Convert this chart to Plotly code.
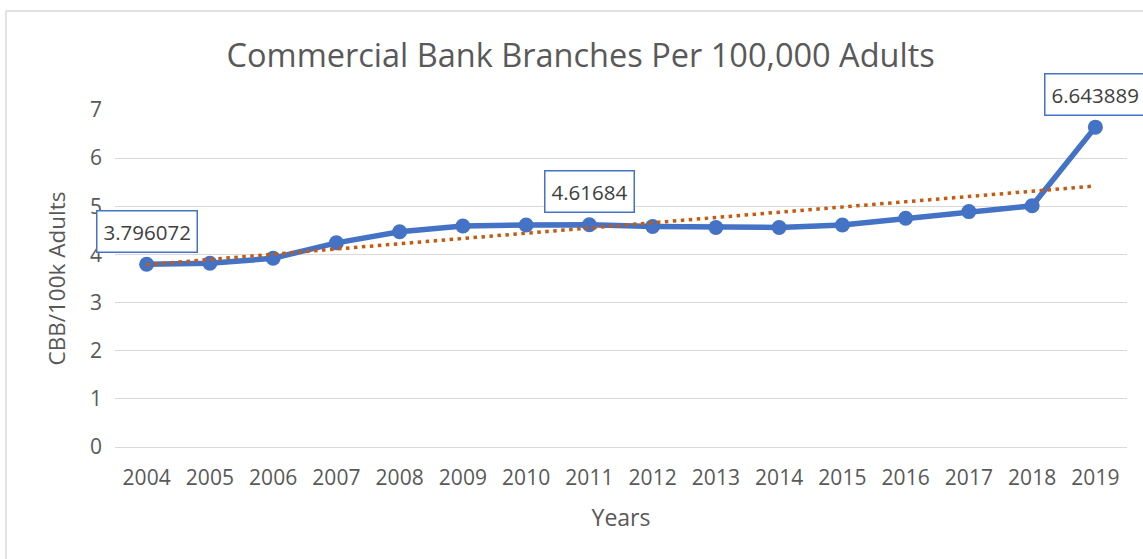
import numpy as np
import plotly.graph_objects as go

# Commercial bank branches per 100,000 adults, by year
years = [2004, 2005, 2006, 2007, 2008, 2009, 2010, 2011,
         2012, 2013, 2014, 2015, 2016, 2017, 2018, 2019]
branches = [3.796072, 3.816, 3.92, 4.24, 4.47, 4.59, 4.61, 4.61684,
            4.58, 4.56, 4.56, 4.61, 4.75, 4.89, 5.01, 6.643889]
labelled_years = [2004, 2011, 2019]
y_ticks = [0, 1, 2, 3, 4, 5, 6, 7]

FONT = "Open Sans"
TEXT = "#595959"
BLUE = "#4472C4"
ORANGE = "#C55A11"
GRID = "#D9D9D9"

# Linear trend fitted over the series
idx = np.arange(len(years))
slope, intercept = np.polyfit(idx, branches, 1)
trend = intercept + slope * idx

fig = go.Figure()
fig.add_trace(go.Scatter(
    x=years, y=branches, mode="lines+markers",
    line=dict(color=BLUE, width=5.5),
    marker=dict(color=BLUE, size=15),
    showlegend=False, hoverinfo="x+y",
))
fig.add_trace(go.Scatter(
    x=years, y=trend, mode="lines",
    line=dict(color=ORANGE, width=3.5, dash="3.5px,4.5px"),
    showlegend=False, hoverinfo="skip",
))

for yr in labelled_years:
    v = branches[years.index(yr)]
    fig.add_annotation(
        x=yr, y=v, text=str(v), showarrow=False, yshift=33,
        font=dict(family=FONT, size=20.5, color="#404040"),
        bgcolor="white", bordercolor=BLUE, borderwidth=1.5, borderpad=6,
    )

# Outer chart frame
fig.add_shape(
    type="rect", xref="paper", yref="paper",
    x0=-0.1077, x1=1.05, y0=-0.4, y1=1.2938,
    line=dict(color=GRID, width=1.5), fillcolor="rgba(0,0,0,0)", layer="below",
)

fig.update_layout(
    width=1143, height=559,
    margin=dict(l=115, r=16, t=110, b=112),
    paper_bgcolor="white", plot_bgcolor="white",
    font=dict(family=FONT, color=TEXT),
    title=dict(
        text="Commercial Bank Branches Per 100,000 Adults",
        x=0.508, xanchor="center", y=0.9, yanchor="middle",
        font=dict(family=FONT, size=32.5, color=TEXT),
    ),
    xaxis=dict(
        range=[2003.5, 2019.5], tickmode="array", tickvals=years,
        ticktext=[str(y) for y in years], showgrid=False, zeroline=False,
        showline=False, ticks="", tickfont=dict(size=21, color=TEXT),
        ticklabelstandoff=16,
        title=dict(text="Years", font=dict(size=23, color=TEXT), standoff=19),
    ),
    yaxis=dict(
        range=[0, 7], tickmode="array", tickvals=y_ticks,
        showgrid=True, gridcolor=GRID, gridwidth=1,
        zeroline=True, zerolinecolor=GRID, zerolinewidth=1,
        showline=False, ticks="", tickfont=dict(size=21, color=TEXT),
        ticklabelstandoff=12,
        title=dict(text="CBB/100k Adults", font=dict(size=22.5, color=TEXT), standoff=18),
    ),
)

fig.write_html("out.html")
